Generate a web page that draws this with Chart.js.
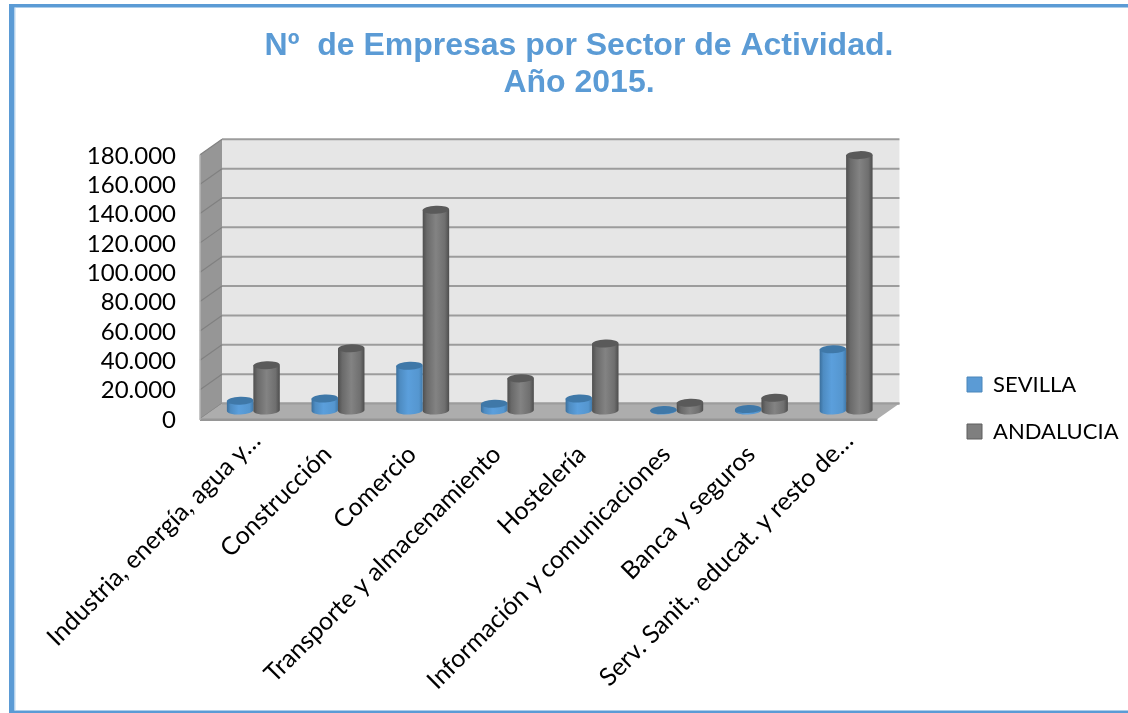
<!DOCTYPE html>
<html lang="es">
<head>
<meta charset="utf-8">
<title>Nº de Empresas por Sector de Actividad. Año 2015.</title>
<script src="https://cdn.jsdelivr.net/npm/chart.js@4"></script>
<style>
html,body{margin:0;padding:0;background:#fff;overflow:hidden}
#wrap{width:1128px;height:713px;position:relative}
</style>
</head>
<body>
<div id="wrap"><canvas id="c" width="1128" height="713"></canvas></div>
<script>
const categories = ["Industria, energía, agua y…","Construcción","Comercio","Transporte y almacenamiento","Hostelería","Información y comunicaciones","Banca y seguros","Serv. Sanit., educat. y resto de…"];
const sevilla = [7200,8700,31000,5100,8700,800,1500,42200];
const andalucia = [31400,42900,137300,22400,46100,5800,9200,174500];
const titleLines = ["Nº  de Empresas por Sector de Actividad.","Año 2015."];

const DX = 22, DY = -15.5;

function shade(stops, x0, x1, ctx){
  const g = ctx.createLinearGradient(x0,0,x1,0);
  stops.forEach(s=>g.addColorStop(s[0],s[1]));
  return g;
}
const palette = [
  {top:"#3f78a8",stops:[[0,"#3b6f9c"],[0.14,"#4e8cc2"],[0.45,"#5b9fdc"],[0.86,"#5596cf"],[1,"#417aab"]]},
  {top:"#5a5a5a",stops:[[0,"#4f4f4f"],[0.16,"#6a6a6a"],[0.5,"#838383"],[0.84,"#6f6f6f"],[1,"#4d4d4d"]]}
];

const scene = {
  id:"scene",
  afterLayout(chart){
    const lg = chart.legend;
    if(lg){ lg.left = 942; lg.right = 1128; lg.top = 301; lg.bottom = 515; }
    const tt = chart.titleBlock;
    if(tt){ tt.left = 30; tt.right = 1128; }
  },
  beforeDraw(chart){
    const c = chart.ctx;
    c.save();
    c.fillStyle="#fff"; c.fillRect(0,0,chart.width,chart.height);
    c.fillStyle="#5B9BD5";
    c.fillRect(9,4,1119,3.5);
    c.fillRect(9,4,5.5,709);
    c.fillRect(9,710.5,1119,2.5);
    c.fillStyle="#BBD6EE";
    c.fillRect(14.5,7.5,1,703);
    c.restore();
  },
  beforeDatasetsDraw(chart){
    const c = chart.ctx, x = chart.scales.x, y = chart.scales.y;
    const l = x.left, r = x.right, b = y.getPixelForValue(0), t = y.getPixelForValue(180000);
    c.save();
    c.fillStyle="#E6E6E6";
    c.fillRect(l+DX,t+DY,r-l,b-t);
    c.fillStyle="#969696";
    c.beginPath();c.moveTo(l,t);c.lineTo(l+DX,t+DY);c.lineTo(l+DX,b+DY);c.lineTo(l,b);c.closePath();c.fill();
    y.ticks.forEach(tk=>{
      const py = y.getPixelForValue(tk.value);
      c.strokeStyle="#9C9C9C"; c.lineWidth=2;
      c.beginPath();c.moveTo(l+DX,py+DY);c.lineTo(r+DX,py+DY);c.stroke();
      c.strokeStyle="#808080"; c.lineWidth=1.2;
      c.beginPath();c.moveTo(l,py);c.lineTo(l+DX,py+DY);c.stroke();
    });
    c.fillStyle="#ADADAD";
    c.beginPath();c.moveTo(l,b);c.lineTo(l+DX,b+DY);c.lineTo(r+DX,b+DY);c.lineTo(r,b);c.closePath();c.fill();
    c.fillStyle="#969696";
    c.fillRect(l,b-0.5,r-l,2.5);
    c.strokeStyle="#9C9C9C"; c.lineWidth=2;
    c.beginPath();c.moveTo(l+DX,b+DY);c.lineTo(r+DX,b+DY);c.stroke();
    c.strokeStyle="#B5B5B5"; c.lineWidth=1.5;
    c.beginPath();c.moveTo(l,t);c.lineTo(l,b+1);c.stroke();
    c.restore();
  },
  beforeDatasetDraw(chart,args){
    const c = chart.ctx, p = palette[args.index];
    const ry = 4;
    chart.getDatasetMeta(args.index).data.forEach(el=>{
      const w = el.width, cx = el.x + DX/2, top = el.y + DY/2, base = el.base + DY/2 - 0.7;
      const rx = w/2, tilt = -0.035;
      c.save();
      c.fillStyle = shade(p.stops, cx-rx, cx+rx, c);
      c.beginPath();
      c.ellipse(cx,base,rx,ry,tilt,0,Math.PI);
      c.lineTo(cx-rx,top);
      c.lineTo(cx+rx,top);
      c.closePath();
      c.fill();
      c.fillStyle = p.top;
      c.beginPath();
      c.ellipse(cx,top,rx,ry,tilt,0,Math.PI*2);
      c.fill();
      c.restore();
    });
    return false;
  }
};

new Chart(document.getElementById("c"),{
  type:"bar",
  data:{labels:categories,datasets:[
    {label:"SEVILLA",data:sevilla,backgroundColor:"#5B9BD5",borderColor:"#4a86ba",borderWidth:1},
    {label:"ANDALUCIA",data:andalucia,backgroundColor:"#7F7F7F",borderColor:"#5f5f5f",borderWidth:1}
  ]},
  plugins:[scene],
  options:{
    responsive:false,animation:false,
    layout:{padding:{left:30,right:64,top:0,bottom:0}},
    datasets:{bar:{barPercentage:1,categoryPercentage:0.625}},
    plugins:{
      title:{display:true,text:titleLines,color:"#5B9BD5",
        font:{family:"'Liberation Sans',Arial,sans-serif",size:32,weight:"bold",lineHeight:1.15},
        padding:{top:28,bottom:53.2}},
      legend:{display:true,position:"right",align:"center",
        labels:{boxWidth:15,boxHeight:15,padding:25,color:"#000",font:{family:"Lato,sans-serif",size:22}}},
      tooltip:{enabled:false}
    },
    scales:{
      x:{
        grid:{display:false,drawTicks:false},border:{display:false},
        afterFit(s){s.height=294;},
        ticks:{maxRotation:45,minRotation:45,autoSkip:false,padding:7,labelOffset:14,color:"#000",
          font:{family:"Lato,sans-serif",size:25},
          callback(v){const s=this.getLabelForValue(v);return s.endsWith("…")?s:s+"\u00A0\u00A0\u00A0";}}
      },
      y:{
        min:0,max:180000,
        grid:{display:false},border:{display:false},
        afterFit(s){s.width=170;},
        ticks:{stepSize:20000,autoSkip:false,padding:16,labelOffset:1,color:"#000",
          font:{family:"Lato,sans-serif",size:24},
          callback(v){return String(v).replace(/\B(?=(\d{3})+$)/g,".");}}
      }
    }
  }
});
</script>
</body>
</html>
